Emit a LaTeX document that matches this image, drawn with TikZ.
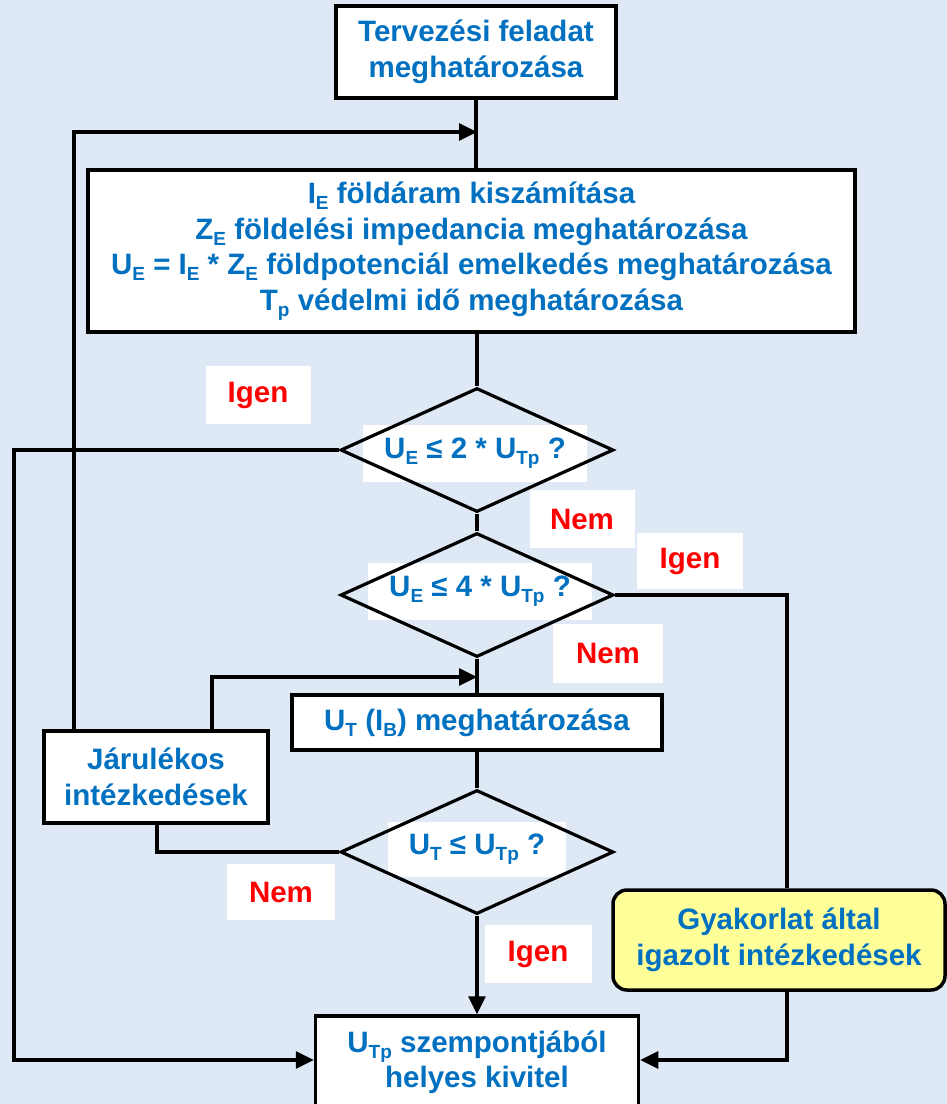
\documentclass[tikz,border=0pt]{standalone}
\usepackage{fontspec}
\setmainfont{Liberation Sans}
\usetikzlibrary{shapes.geometric,arrows.meta}
\definecolor{bgblue}{RGB}{222,233,245}
\definecolor{txtblue}{RGB}{0,112,192}
\definecolor{lblred}{RGB}{255,0,0}
\definecolor{noteyellow}{RGB}{255,255,153}
\newcommand\sbs[1]{\raisebox{-6pt}{\fontsize{19}{19}\selectfont #1}}
\begin{document}
\begin{tikzpicture}[x=1pt,y=-1pt,
  font=\bfseries\fontsize{29.5}{35.5}\selectfont,
  box/.style={draw=black, line width=3.5pt, fill=white, text=txtblue, align=center, inner sep=0pt},
  dia/.style={diamond, draw=black, line width=3.2pt, inner sep=0pt, minimum width=273pt, minimum height=124pt},
  dtext/.style={fill=white, text=txtblue, inner sep=0pt},
  lbl/.style={fill=white, text=lblred, inner sep=0pt},
  conn/.style={line width=3.2pt, draw=black},
  arr/.style={conn, -{Triangle[length=18pt,width=17pt]}},
]
\useasboundingbox (0,0) rectangle (947,1104);
\clip (0,0) rectangle (947,1104);
\fill[bgblue] (0,0) rectangle (947,1104);

% labels
\node[lbl, minimum width=105pt, minimum height=58pt] (igen1) at (258,395) {Igen};
\node[lbl, minimum width=105pt, minimum height=58pt] (nem1) at (582,519) {Nem};
\node[lbl, minimum width=106pt, minimum height=56pt] (igen2) at (690,561) {Igen};
\node[lbl, minimum width=110pt, minimum height=59pt] (nem2) at (608,653) {Nem};
\node[lbl, minimum width=108pt, minimum height=56pt] (nem3) at (281,892) {Nem};
\node[lbl, minimum width=107pt, minimum height=58pt] (igen4) at (538,954) {Igen};

% diamond texts
\node[dtext, minimum width=224pt, minimum height=57pt] (d1t) at (475,453) {U\sbs{E} ≤ 2 * U\sbs{Tp} ?};
\node[dtext, minimum width=224pt, minimum height=57pt] (d2t) at (480,591) {U\sbs{E} ≤ 4 * U\sbs{Tp} ?};
\node[dtext, minimum width=178pt, minimum height=55pt] (d3t) at (477,849) {U\sbs{T} ≤ U\sbs{Tp} ?};

% diamonds
\node[dia] (d1) at (477,450) {};
\node[dia] (d2) at (477,595) {};
\node[dia] (d3) at (477,852) {};

% boxes
\node[box, minimum width=280pt, minimum height=92pt] (top) at (476,52) {Tervezési feladat\\meghatározása};
\node[box, minimum width=767pt, minimum height=162pt] (big) at (471.5,251)
  {I\sbs{E} földáram kiszámítása\\
   Z\sbs{E} földelési impedancia meghatározása\\
   U\sbs{E} = I\sbs{E} * Z\sbs{E} földpotenciál emelkedés meghatározása\\
   T\sbs{p} védelmi idő meghatározása};
\node[box, minimum width=370pt, minimum height=55pt] (ut) at (477,722.5) {U\sbs{T} (I\sbs{B}) meghatározása};
\node[box, minimum width=224pt, minimum height=92pt] (jar) at (156,777) {Járulékos\\intézkedések};
\node[box, fill=noteyellow, rounded corners=14pt, minimum width=332pt, minimum height=100pt] (gy) at (779,940) {Gyakorlat által\\igazolt intézkedések};
\node[box, minimum width=323pt, minimum height=92pt] (bot) at (477,1062) {U\sbs{Tp} szempontjából\\helyes kivitel};

% coordinates
\coordinate (fb) at (477,132);
\coordinate (jb) at (477,677);

% connectors
\draw[conn] (top.south) -- (top.south |- big.north);
\draw[arr] (jar.north -| 74,0) -- (74,132) -- (fb);
\draw[conn] (d1.north |- big.south) -- (d1.north);
\draw[arr] (d1.west) -- (14,450) -- (14,1060) -- (bot.west |- 0,1060);
\draw[conn] (d1.south) -- (d2.north);
\draw[conn] (d2.east) -- (787,595) -- (gy.north -| 787,0);
\draw[arr] (gy.south -| 787,0) -- (787,1060) -- (bot.east |- 0,1060);
\draw[conn] (d2.south) -- (ut.north);
\draw[arr] (jar.north -| 212,0) -- (212,677) -- (jb);
\draw[conn] (ut.south) -- (d3.north);
\draw[conn] (d3.west) -- (157,852) -- (jar.south -| 157,0);
\draw[arr] (d3.south) -- (bot.north);
\end{tikzpicture}
\end{document}
